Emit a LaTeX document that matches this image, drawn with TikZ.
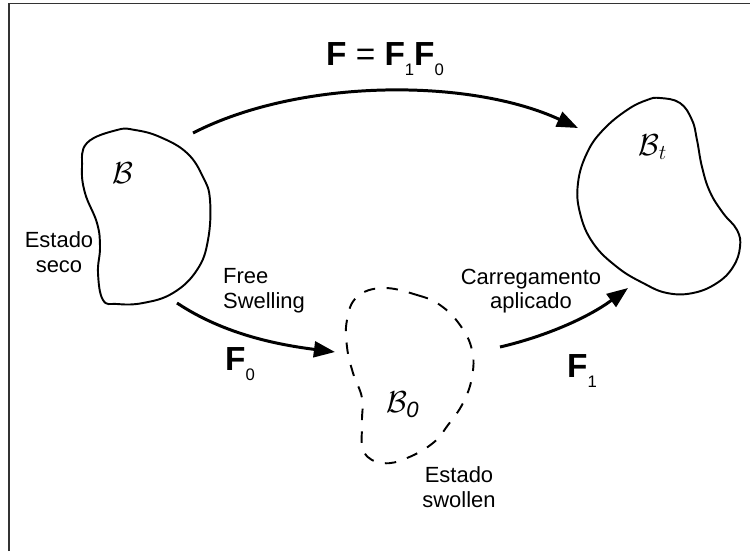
\documentclass[tikz,border=0pt]{standalone}
\usepackage{fontspec}
\setmainfont{Liberation Sans}
\usetikzlibrary{arrows.meta}
\newcommand{\Fidx}[1]{\textbf{F}\raisebox{-6pt}{\fontsize{9.5}{10}\selectfont #1}}

\begin{document}
\begin{tikzpicture}[x=0.02cm, y=-0.02cm,
		body/.style={line width=1.1pt},
		swollen/.style={body, dash pattern=on 6.5pt off 6.5pt},
		map/.style={line width=1.7pt, -{Triangle[length=12pt,width=9pt]}},
		txt/.style={font=\fontsize{12.5}{14}\selectfont, align=center, inner sep=0pt},
		grad/.style={font=\fontsize{19}{21}\selectfont, inner sep=0pt, anchor=base},
		conf/.style={font=\fontsize{18}{20}\selectfont, inner sep=0pt}]
		%%%%% START %%%%%
		
		\useasboundingbox (0, 0) rectangle (750, 551);
		\draw[line width=0.85pt, color=black!80] (9, 551) -- (9, 3.5) -- (750, 3.5);
		
		% dry body
		\draw[body] plot[smooth cycle, tension=0.7] coordinates {
			(117,130) (87,143) (82,167) (85,193) (97,223) (100,247) (98,273)
			(103,300) (117,304) (143,303) (173,293) (197,270) (208,240)
			(210,200) (203,177) (187,153) (160,137) (135,130)};
		\node[conf] (B) at (123, 173) {$\mathcal{B}$};
		\node[txt] (seco) at (59, 252) {Estado\\seco};
		
		% swollen body
		\draw[swollen] plot[smooth cycle, tension=0.7] coordinates {
			(383,288) (417,295) (440,305) (460,325) (472,350) (472,377)
			(463,403) (448,425) (433,443) (407,458) (383,463) (364,452)
			(362,423) (362,398) (353,373) (347,347) (347,320) (357,297)};
		\node[conf] (B0) at (403, 405) {$\mathcal{B}_{\mathit{0}}$};
		\node[txt] (swol) at (459, 487) {Estado\\swollen};
		
		% current body
		\draw[body] plot[smooth cycle, tension=0.7] coordinates {
			(660,98) (680,103) (692,120) (697,140) (702,167) (710,192)
			(723,213) (737,230) (740,247) (733,267) (717,283) (693,293)
			(667,293) (643,283) (617,267) (593,243) (580,213) (578,183)
			(587,153) (603,130) (627,110) (647,100)};
		\node[conf] (Bt) at (653, 147) {$\mathcal{B}_t$};
		
		% maps
		\coordinate (dryTop) at (193, 133);
		\coordinate (dryLow) at (177, 303);
		\coordinate (swolIn) at (335, 352);
		\coordinate (swolOut) at (500, 347);
		\coordinate (curLow) at (628, 288);
		\coordinate (curTop) at (578, 128);
		
		\draw[map] (dryTop) .. controls (300, 78) and (470, 78) .. (curTop);
		\node[grad] (Ftot) at (385, 65) {\textbf{F} = \Fidx{1}\Fidx{0}};
		
		\draw[map] (dryLow) .. controls (225, 335) and (280, 345) .. (swolIn);
		\node[txt, align=left] (free) at (264, 291) {Free\\Swelling};
		\node[grad] (F0) at (240, 370) {\Fidx{0}};
		
		\draw[map] (swolOut) .. controls (547, 336) and (589, 317) .. (curLow);
		\node[txt] (carga) at (531, 291) {Carregamento\\aplicado};
		\node[grad] (F1) at (582, 377) {\Fidx{1}};
		
		%%%%% END %%%%%
\end{tikzpicture}
\end{document}
